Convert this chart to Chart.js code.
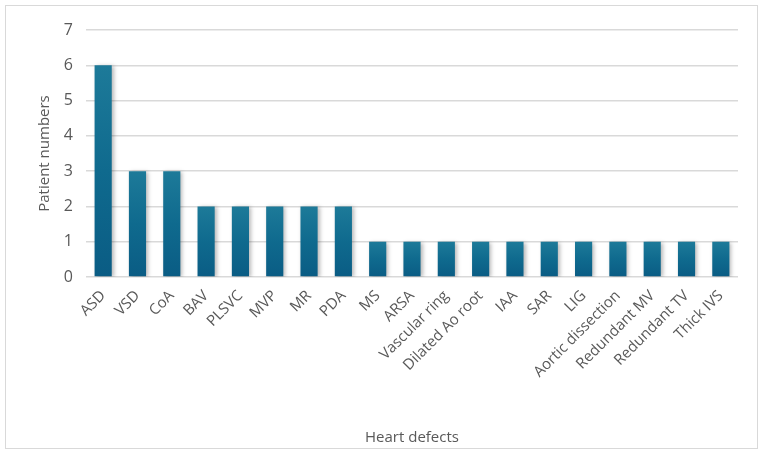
<!DOCTYPE html>
<html>
<head>
<meta charset="utf-8">
<script src="https://cdn.jsdelivr.net/npm/chart.js@4"></script>
<style>
  body { margin: 0; background: #fff; }
  #wrap { position: relative; width: 764px; height: 457px; }
  #frame { position: absolute; left: 5px; top: 5px; width: 751px; height: 442px; border: 1px solid #d9d9d9; pointer-events: none; }
</style>
</head>
<body>
<div id="wrap">
  <canvas id="grafico" width="764" height="457"></canvas>
  <div id="frame"></div>
</div>
<script>
const defeitos = ["ASD", "VSD", "CoA", "BAV", "PLSVC", "MVP", "MR", "PDA", "MS", "ARSA",
  "Vascular ring", "Dilated Ao root", "IAA", "SAR", "LIG", "Aortic dissection",
  "Redundant MV", "Redundant TV", "Thick IVS"]
const pacientes = [6, 3, 3, 2, 2, 2, 2, 2, 1, 1, 1, 1, 1, 1, 1, 1, 1, 1, 1]
const ticksY = [0, 1, 2, 3, 4, 5, 6, 7]

// gradiente por barra, do topo da barra ate a base
function corBarra(ctx){
  const chart = ctx.chart
  if (!chart.chartArea || ctx.parsed === undefined) return "#0e6890"
  const y = chart.scales.y
  const topo = y.getPixelForValue(ctx.parsed.y)
  const base = y.getPixelForValue(0)
  const g = chart.ctx.createLinearGradient(0, topo, 0, base)
  g.addColorStop(0, "#1d7a99")
  g.addColorStop(0.5, "#0f6a8e")
  g.addColorStop(1, "#0a5c84")
  return g
}

const sombra = {
  id: "sombra",
  beforeDatasetsDraw(chart){
    const c = chart.ctx
    c.save()
    c.shadowColor = "rgba(0,0,0,0.28)"
    c.shadowBlur = 4
    c.shadowOffsetX = 2
    c.shadowOffsetY = 1
  },
  afterDatasetsDraw(chart){
    chart.ctx.restore()
  }
}

const cinza = "#595959"
const fonte = "'Open Sans', 'Liberation Sans', sans-serif"

new Chart(document.getElementById("grafico").getContext("2d"), {
  type: "bar",
  data: {
    labels: defeitos,
    datasets: [{
      label: "Patient numbers",
      data: pacientes,
      backgroundColor: corBarra,
      borderWidth: 0,
      barPercentage: 0.5,
      categoryPercentage: 1.0,
    }],
  },
  options: {
    responsive: false,
    animation: false,
    layout: { padding: { left: 36, right: 26, top: 30, bottom: 10 } },
    plugins: {
      legend: { display: false },
      tooltip: { enabled: false },
    },
    scales: {
      x: {
        grid: { display: false },
        border: { display: false },
        ticks: {
          color: cinza,
          font: { family: fonte, size: 15 },
          maxRotation: 45,
          minRotation: 45,
          autoSkip: false,
          padding: 2,
        },
        title: {
          display: true,
          text: "Heart defects",
          color: cinza,
          font: { family: fonte, size: 15 },
          padding: { top: 0, bottom: 0 },
        },
        afterFit(scale){ scale.height = 170 },
      },
      y: {
        min: 0,
        max: 7,
        afterBuildTicks(scale){ scale.ticks = ticksY.map(v => ({ value: v })) },
        grid: { color: "#d9d9d9", lineWidth: 1.5, drawTicks: false },
        border: { display: false },
        ticks: {
          color: cinza,
          font: { family: fonte, size: 16 },
          padding: 13,
        },
        title: {
          display: true,
          text: "Patient numbers",
          color: cinza,
          font: { family: fonte, size: 15 },
          padding: { top: 0, bottom: 0 },
        },
        afterFit(scale){ scale.width = 50 },
      },
    },
  },
  plugins: [sombra],
})
</script>
</body>
</html>
